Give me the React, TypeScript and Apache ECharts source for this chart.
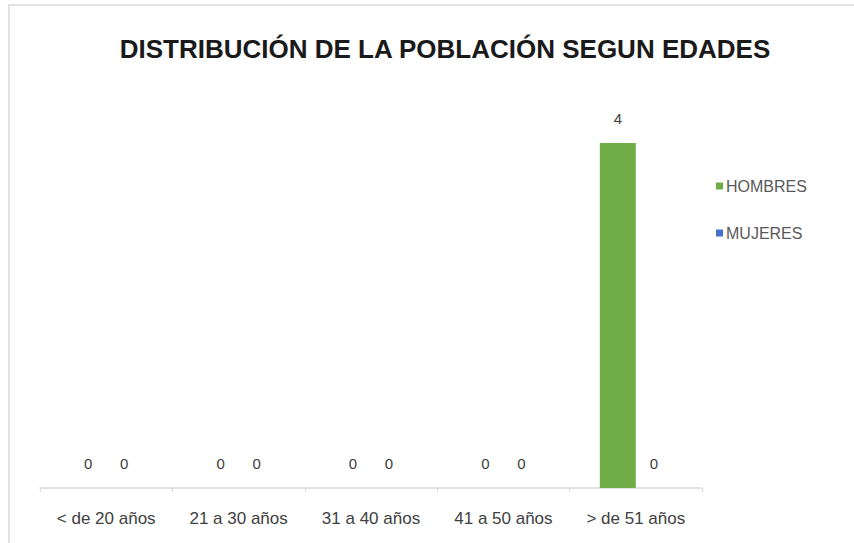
import React, { useEffect, useRef } from "react";
import * as echarts from "echarts";

const categories = ["< de 20 años", "21 a 30 años", "31 a 40 años", "41 a 50 años", "> de 51 años"];
const hombres = [0, 0, 0, 0, 4];
const mujeres = [0, 0, 0, 0, 0];
const titleText = "DISTRIBUCIÓN DE LA POBLACIÓN SEGUN EDADES";

export default function App() {
  const ref = useRef<HTMLDivElement>(null);
  useEffect(() => {
    if (!ref.current) return;
    const chart = echarts.init(ref.current, undefined, { renderer: "svg" });
    const labelStyle = {
      show: true,
      position: "top" as const,
      distance: 17,
      color: "#404040",
      fontSize: 15,
      fontFamily: "Liberation Sans",
    };
    chart.setOption({
      animation: false,
      backgroundColor: "#ffffff",
      graphic: [
        {
          type: "rect",
          shape: { x: 9, y: 5, width: 900, height: 600 },
          style: { fill: "none", stroke: "#d9d9d9", lineWidth: 1.5 },
          silent: true,
          z: -1,
        },
      ],
      title: {
        text: titleText,
        left: 440,
        textAlign: "center",
        top: 31,
        textStyle: {
          fontFamily: "Liberation Sans",
          fontWeight: "bold",
          fontSize: 26,
          color: "#1a1a1a",
        },
      },
      legend: {
        orient: "vertical",
        left: 711,
        top: 173,
        itemGap: 31,
        itemWidth: 7,
        itemHeight: 7,
        icon: "rect",
        textStyle: { color: "#595959", fontSize: 16, fontFamily: "Liberation Sans", padding: [0, 0, 0, -2] },
        data: ["HOMBRES", "MUJERES"],
      },
      grid: { left: 40, right: 152, top: 143, bottom: 55, containLabel: false },
      xAxis: {
        type: "category",
        data: categories,
        axisLine: { lineStyle: { color: "#d9d9d9", width: 1.5 } },
        axisTick: { show: true, length: 4, lineStyle: { color: "#d9d9d9" } },
        axisLabel: { color: "#404040", fontSize: 17, fontFamily: "Liberation Sans", margin: 22 },
      },
      yAxis: {
        type: "value",
        min: 0,
        max: 4,
        show: false,
        splitLine: { show: false },
      },
      series: [
        {
          name: "HOMBRES",
          type: "bar",
          data: hombres,
          barWidth: 36,
          barGap: "0%",
          itemStyle: { color: "#70AD47" },
          label: labelStyle,
        },
        {
          name: "MUJERES",
          type: "bar",
          data: mujeres,
          barWidth: 36,
          itemStyle: { color: "#4472C4" },
          label: labelStyle,
        },
      ],
    });
    return () => chart.dispose();
  }, []);
  return <div ref={ref} style={{ width: 854, height: 543, position: "absolute", left: 0, top: 0 }} />;
}
